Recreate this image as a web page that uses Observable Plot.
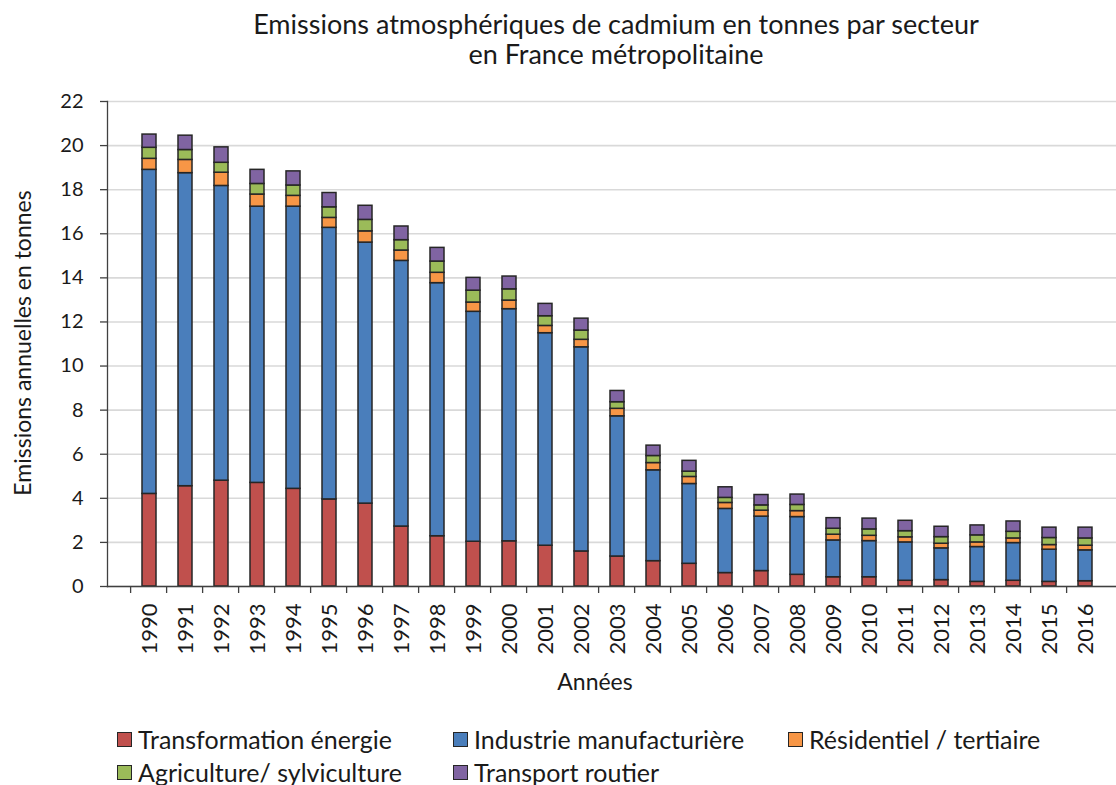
<!DOCTYPE html>
<html><head><meta charset="utf-8">
<script src="https://cdn.jsdelivr.net/npm/d3@7"></script>
<script src="https://cdn.jsdelivr.net/npm/@observablehq/plot@0.6"></script>
<style>
html,body{margin:0;padding:0;background:#fff;overflow:hidden;}
#wrap{position:relative;width:1116px;height:785px;font-family:Lato,"Open Sans",sans-serif;color:#1a1a1a;}
#title{position:absolute;left:216px;width:800px;top:9px;text-align:center;font-size:27px;line-height:30px;}
#ylab{position:absolute;left:22px;top:343px;transform:translate(-50%,-50%) rotate(-90deg);white-space:nowrap;font-size:23px;}
#xlab{position:absolute;left:595px;top:681px;transform:translate(-50%,-50%);font-size:23px;white-space:nowrap;}
.leg{position:absolute;display:flex;align-items:center;font-size:25px;white-space:nowrap;height:30px;}
.sw{width:13px;height:13px;border:1.5px solid #262626;margin-right:6px;flex:none;}
#chart{position:absolute;left:0;top:0;}
</style></head>
<body><div id="wrap">
<div id="chart"></div>
<div id="title">Emissions atmosphériques de cadmium en tonnes par secteur<br>en France métropolitaine</div>
<div id="ylab">Emissions annuelles en tonnes</div>
<div id="xlab">Années</div>
<div id="legend"></div>
</div>
<script>
const years = [1990,1991,1992,1993,1994,1995,1996,1997,1998,1999,2000,2001,2002,2003,2004,2005,2006,2007,2008,2009,2010,2011,2012,2013,2014,2015,2016];
const sectors = ["Transformation énergie","Industrie manufacturière","Résidentiel / tertiaire","Agriculture/ sylviculture","Transport routier"];
const sectorColors = ["#C0504D","#4A7EBB","#F79646","#9BBB59","#8064A2"];
const transformationEnergie = [4.2,4.55,4.8,4.7,4.43,3.95,3.76,2.72,2.28,2.03,2.05,1.85,1.59,1.36,1.15,1.03,0.61,0.7,0.53,0.42,0.42,0.26,0.29,0.21,0.26,0.21,0.24];
const industrieManufacturiere = [14.7,14.2,13.37,12.53,12.8,12.32,11.84,12.05,11.48,10.43,10.53,9.64,9.26,6.36,4.12,3.62,2.91,2.47,2.62,1.67,1.64,1.74,1.44,1.58,1.71,1.46,1.4];
const residentielTertiaire = [0.5,0.6,0.6,0.55,0.49,0.45,0.51,0.47,0.47,0.42,0.39,0.33,0.34,0.34,0.33,0.32,0.27,0.27,0.27,0.26,0.24,0.23,0.21,0.21,0.21,0.21,0.21];
const agricultureSylviculture = [0.5,0.45,0.45,0.48,0.47,0.48,0.52,0.47,0.51,0.54,0.51,0.44,0.42,0.3,0.32,0.24,0.23,0.24,0.28,0.27,0.29,0.28,0.3,0.32,0.3,0.32,0.33];
const transportRoutier = [0.6,0.65,0.7,0.64,0.64,0.65,0.64,0.62,0.62,0.58,0.58,0.56,0.54,0.51,0.47,0.49,0.48,0.47,0.47,0.48,0.49,0.47,0.47,0.45,0.47,0.47,0.49];
const yTicks = [0,2,4,6,8,10,12,14,16,18,20,22];

const series = [transformationEnergie, industrieManufacturiere, residentielTertiaire, agricultureSylviculture, transportRoutier];
const rows = [];
series.forEach((vals, si) => vals.forEach((v, i) => rows.push({year: years[i], sector: sectors[si], value: v})));

const W = 1116, H = 700, ML = 107, MT = 101, MB = 114;
const xRange = [ML, 1127];
const step = (xRange[1] - xRange[0]) / years.length;
const axisColor = "#404040";

const plot = Plot.plot({
  width: W, height: H,
  marginLeft: ML, marginRight: 0, marginTop: MT, marginBottom: MB,
  style: {fontFamily: "Lato, 'Open Sans', sans-serif", fontSize: "20px", color: "#1a1a1a", background: "#fff", overflow: "hidden"},
  x: {type: "band", domain: years, range: xRange, padding: 0.6, align: 0.5, label: null},
  y: {domain: [0, 22], label: null},
  color: {domain: sectors, range: sectorColors},
  marks: [
    Plot.gridY(yTicks, {stroke: "#d9d9d9", strokeOpacity: 1, strokeWidth: 1.6}),
    Plot.barY(rows, {x: "year", y: "value", fill: "sector", order: sectors, stroke: "#262626", strokeWidth: 1.5}),
    Plot.frame({anchor: "left", stroke: axisColor, strokeWidth: 1.3}),
    Plot.frame({anchor: "bottom", stroke: axisColor, strokeWidth: 1.3}),
    Plot.axisY({ticks: yTicks, tickSize: 7, tickPadding: 17, stroke: axisColor, strokeWidth: 1.3, label: null, fontSize: 20, tickFormat: d => d}),
    Plot.axisX({ticks: years, tickSize: 0, tickPadding: 17, tickRotate: -90, label: null, fontSize: 22, tickFormat: d => String(d)}),
    Plot.tickX(years, {x: d => d, dx: -step / 2, stroke: axisColor, strokeWidth: 1.3, insetTop: H - MT - MB, insetBottom: -7})
  ]
});
document.getElementById("chart").appendChild(plot);

const legendItems = [
  {i: 0, left: 117, top: 739},
  {i: 1, left: 453, top: 739},
  {i: 2, left: 788, top: 739},
  {i: 3, left: 117, top: 772},
  {i: 4, left: 453, top: 772}
];
const leg = document.getElementById("legend");
legendItems.forEach(it => {
  const d = document.createElement("div");
  d.className = "leg";
  d.style.left = it.left + "px";
  d.style.top = (it.top - 15) + "px";
  const s = document.createElement("div");
  s.className = "sw";
  s.style.background = sectorColors[it.i];
  const t = document.createElement("span");
  t.textContent = sectors[it.i];
  d.appendChild(s); d.appendChild(t);
  leg.appendChild(d);
});
</script>
</body></html>
